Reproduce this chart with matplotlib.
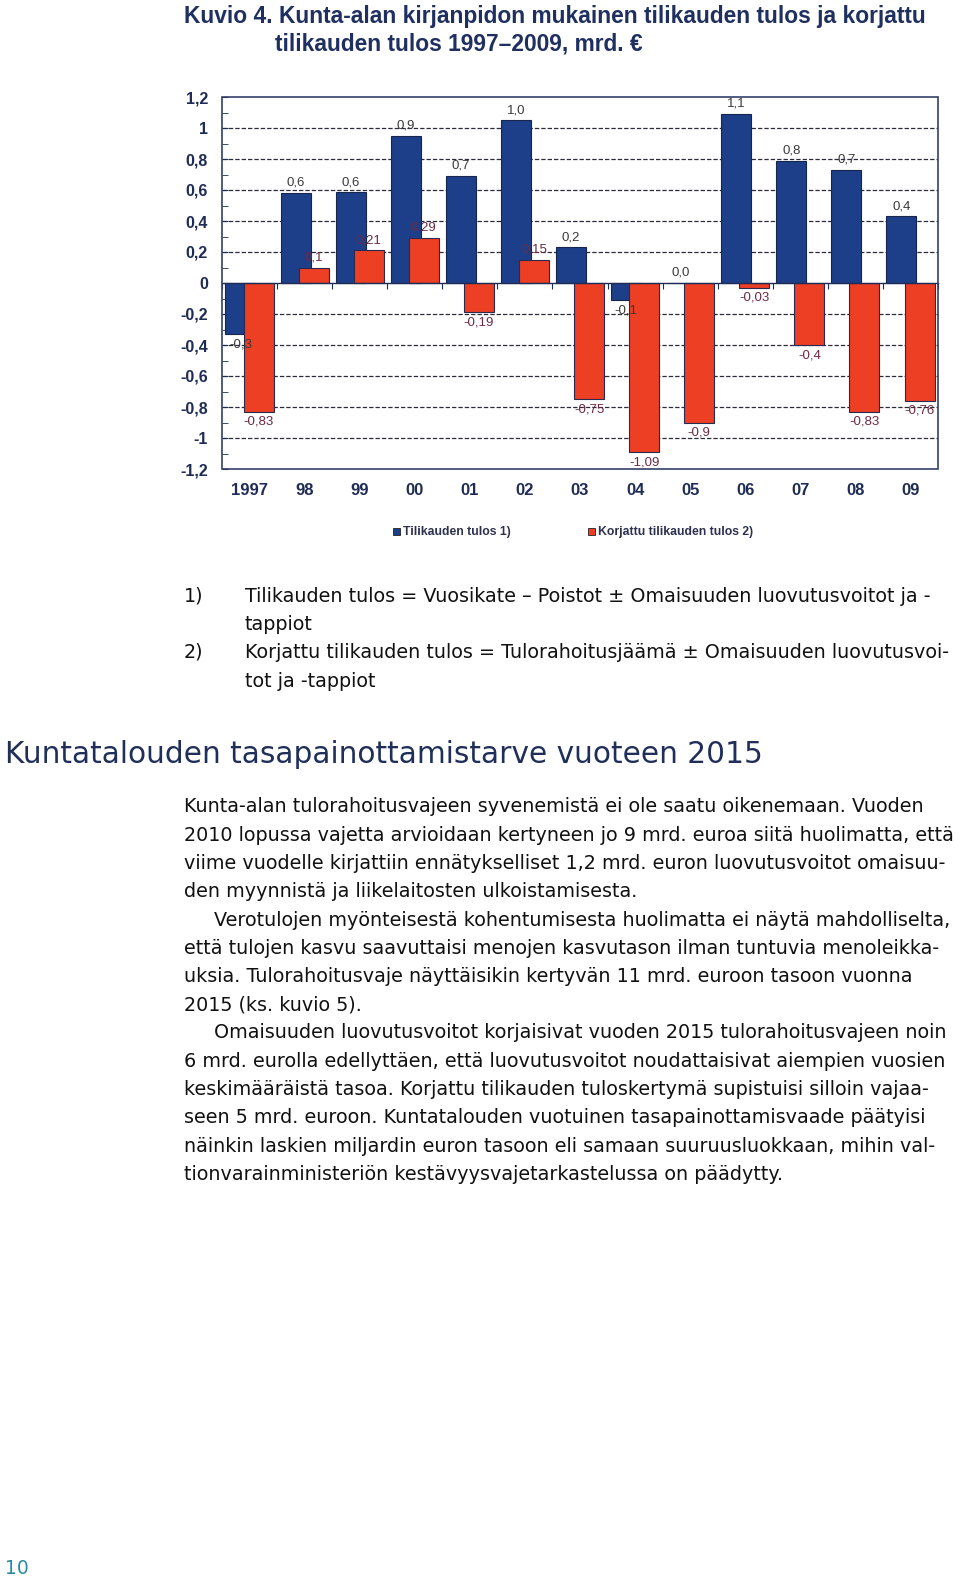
import numpy as np
import matplotlib
matplotlib.use("Agg")
import matplotlib.pyplot as plt
from matplotlib.patches import Rectangle
from matplotlib.ticker import MultipleLocator, FixedLocator

vuodet = ['1997', '98', '99', '00', '01', '02', '03', '04', '05', '06', '07', '08', '09']
tilikauden_tulos = [-0.33, 0.58, 0.585, 0.95, 0.69, 1.05, 0.23, -0.11, 0.0, 1.09, 0.79, 0.73, 0.43]
korjattu_tulos = [-0.83, 0.10, 0.21, 0.29, -0.19, 0.15, -0.75, -1.09, -0.90, -0.03, -0.40, -0.83, -0.76]
tulos_tekstit = ['-0,3', '0,6', '0,6', '0,9', '0,7', '1,0', '0,2', '-0,1', '0,0', '1,1', '0,8', '0,7', '0,4']
korjattu_tekstit = ['-0,83', '0,1', '0,21', '0,29', '-0,19', '0,15', '-0,75', '-1,09', '-0,9', '-0,03', '-0,4', '-0,83', '-0,76']
y_ticks = [1.2, 1.0, 0.8, 0.6, 0.4, 0.2, 0.0, -0.2, -0.4, -0.6, -0.8, -1.0, -1.2]
y_tick_labels = ['1,2', '1', '0,8', '0,6', '0,4', '0,2', '0', '-0,2', '-0,4', '-0,6', '-0,8', '-1', '-1,2']

W, H = 960, 1578
NAVY = '#1f2c55'
BLUE = '#1d3f8a'
RED = '#ec3f24'
NARROW = ['Liberation Sans Narrow', 'Liberation Sans', 'DejaVu Sans']


def px(x, y):
    return x / W, 1 - y / H


fig = plt.figure(figsize=(W / 100, H / 100), dpi=100)
ax = fig.add_axes([222 / W, 1 - 469 / H, 716 / W, 372 / H])

x = np.arange(len(vuodet))
w = 0.545
off = 0.165
b1 = ax.bar(x - off, tilikauden_tulos, w, color=BLUE, edgecolor='#16244e', linewidth=0.8, zorder=3)
b2 = ax.bar(x + off, korjattu_tulos, w, color=RED, edgecolor='#2a2a50', linewidth=0.8, zorder=4)

for bars, texts, col in [(b1, tulos_tekstit, '#3a3a3a'), (b2, korjattu_tekstit, '#6e2a40')]:
    for p, t in zip(bars, texts):
        h = p.get_height()
        cx = p.get_x() + p.get_width() / 2
        if h >= 0:
            ax.annotate(t, (cx, h), xytext=(0, 3), textcoords='offset points',
                        ha='center', va='bottom', fontsize=9.5, color=col, family=NARROW, zorder=6)
        else:
            ax.annotate(t, (cx, h), xytext=(0, -3), textcoords='offset points',
                        ha='center', va='top', fontsize=9.5, color=col, family=NARROW, zorder=6)

ax.set_xlim(-0.5, len(vuodet) - 0.5)
ax.set_ylim(-1.2, 1.2)

# dashed gridlines
for v in y_ticks:
    if abs(v) < 1.1 and abs(v) > 0.01:
        ax.axhline(v, color='#2b2b3a', linewidth=0.9, linestyle=(0, (3.5, 1.6)), zorder=1)

# category axis at zero
for s in ['top', 'right', 'left']:
    ax.spines[s].set_visible(False)
ax.spines['bottom'].set_position(('data', 0))
ax.spines['bottom'].set_color(NAVY)
ax.spines['bottom'].set_linewidth(1.0)
ax.spines['bottom'].set_zorder(5)
ax.xaxis.set_major_locator(FixedLocator(list(np.arange(len(vuodet) + 1) - 0.5)))
ax.tick_params(axis='x', direction='out', length=4, color=NAVY, labelbottom=False)

ax.add_patch(Rectangle((0, 0), 1, 1, transform=ax.transAxes, fill=False,
                       edgecolor='#34406a', linewidth=1.2, zorder=7, clip_on=False))

ax.set_yticks(y_ticks)
ax.set_yticklabels(y_tick_labels, family=NARROW, fontweight='bold', fontsize=11.5, color=NAVY)
ax.yaxis.set_minor_locator(MultipleLocator(0.1))
ax.tick_params(axis='y', which='both', direction='in', length=4, color=NAVY, pad=10)

for i, v in enumerate(vuodet):
    ax.text(i, -0.038, v, transform=ax.get_xaxis_transform(), ha='center', va='top',
            family=NARROW, fontweight='bold', fontsize=12, color=NAVY)

# legend
fig.patches.append(Rectangle(px(393, 535), 7 / W, 7 / H, transform=fig.transFigure,
                             facecolor=BLUE, edgecolor='#222', linewidth=0.6))
fig.text(*px(403, 532), 'Tilikauden tulos 1)', ha='left', va='center',
         family=NARROW, fontsize=8.8, fontweight='bold', color='#2d3150')
fig.patches.append(Rectangle(px(588, 535), 7 / W, 7 / H, transform=fig.transFigure,
                             facecolor=RED, edgecolor='#222', linewidth=0.6))
fig.text(*px(598, 532), 'Korjattu tilikauden tulos 2)', ha='left', va='center',
         family=NARROW, fontsize=8.8, fontweight='bold', color='#2d3150')

# title
fig.text(*px(184, 16), 'Kuvio 4. Kunta-alan kirjanpidon mukainen tilikauden tulos ja korjattu',
         ha='left', va='center', family=NARROW, fontsize=16.4, fontweight='bold', color='#1f3060')
fig.text(*px(275, 44), 'tilikauden tulos 1997\u20132009, mrd. \u20ac',
         ha='left', va='center', family=NARROW, fontsize=16.4, fontweight='bold', color='#1f3060')

# footnotes
BODY = dict(ha='left', va='center', family='DejaVu Sans', fontsize=13.8, color='#111111')
fig.text(*px(184, 596), '1)', **BODY)
fig.text(*px(245, 596), 'Tilikauden tulos = Vuosikate \u2013 Poistot \u00b1 Omaisuuden luovutusvoitot ja -', **BODY)
fig.text(*px(245, 624), 'tappiot', **BODY)
fig.text(*px(184, 652), '2)', **BODY)
fig.text(*px(245, 652), 'Korjattu tilikauden tulos = Tulorahoitusjäämä \u00b1 Omaisuuden luovutusvoi-', **BODY)
fig.text(*px(245, 681), 'tot ja -tappiot', **BODY)

fig.text(*px(5, 754), 'Kuntatalouden tasapainottamistarve vuoteen 2015', ha='left', va='center',
         family='DejaVu Sans', fontsize=21.3, color='#1f2f5a')

rivit = [
    'Kunta-alan tulorahoitusvajeen syvenemistä ei ole saatu oikenemaan. Vuoden',
    '2010 lopussa vajetta arvioidaan kertyneen jo 9 mrd. euroa siitä huolimatta, että',
    'viime vuodelle kirjattiin ennätykselliset 1,2 mrd. euron luovutusvoitot omaisuu-',
    'den myynnistä ja liikelaitosten ulkoistamisesta.',
    '>Verotulojen myönteisestä kohentumisesta huolimatta ei näytä mahdolliselta,',
    'että tulojen kasvu saavuttaisi menojen kasvutason ilman tuntuvia menoleikka-',
    'uksia. Tulorahoitusvaje näyttäisikin kertyvän 11 mrd. euroon tasoon vuonna',
    '2015 (ks. kuvio 5).',
    '>Omaisuuden luovutusvoitot korjaisivat vuoden 2015 tulorahoitusvajeen noin',
    '6 mrd. eurolla edellyttäen, että luovutusvoitot noudattaisivat aiempien vuosien',
    'keskimääräistä tasoa. Korjattu tilikauden tuloskertymä supistuisi silloin vajaa-',
    'seen 5 mrd. euroon. Kuntatalouden vuotuinen tasapainottamisvaade päätyisi',
    'näinkin laskien miljardin euron tasoon eli samaan suuruusluokkaan, mihin val-',
    'tionvarainministeriön kestävyysvajetarkastelussa on päädytty.',
]
for i, r in enumerate(rivit):
    xx = 184
    if r.startswith('>'):
        r = r[1:]
        xx = 214
    fig.text(*px(xx, 807 + i * 28.25), r, **BODY)

fig.text(*px(5, 1568), '10', ha='left', va='center', family='DejaVu Sans', fontsize=13.5, color='#2a8aa8')

fig.savefig('out.png', dpi=100)
